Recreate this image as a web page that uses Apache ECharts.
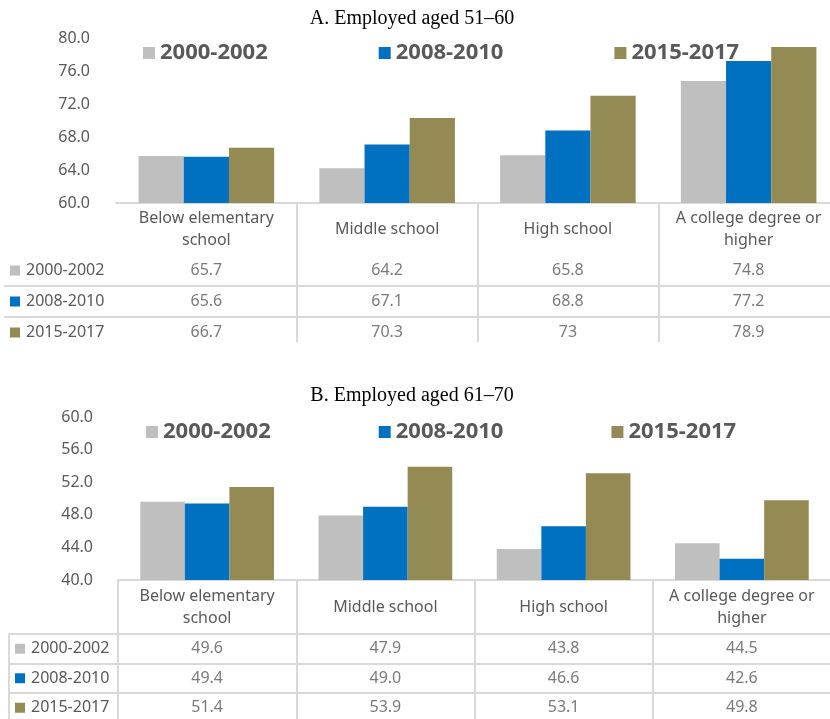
<!DOCTYPE html>
<html>
<head>
<meta charset="utf-8">
<title>Employed by education level</title>
<script src="https://cdn.jsdelivr.net/npm/echarts@6/dist/echarts.min.js"></script>
<style>
  html, body { margin: 0; padding: 0; background: #fff; }
  #chart { width: 830px; height: 719px; }
</style>
</head>
<body>
<div id="chart"></div>
<script>
// categories (table header)
const categories = ['Below elementary\nschool', 'Middle school', 'High school', 'A college degree or\nhigher']
const periods = ['2000-2002', '2008-2010', '2015-2017']

// A. Employed aged 51-60
const a2000 = [65.7, 64.2, 65.8, 74.8]
const a2008 = [65.6, 67.1, 68.8, 77.2]
const a2015 = [66.7, 70.3, 73, 78.9]
const yTicksA = [60, 64, 68, 72, 76, 80]

// B. Employed aged 61-70
const b2000 = [49.6, 47.9, 43.8, 44.5]
const b2008 = [49.4, 49.0, 46.6, 42.6]
const b2015 = [51.4, 53.9, 53.1, 49.8]
const yTicksB = [40, 44, 48, 52, 56, 60]

// styles
const colors = ['#bfbfbf', '#0070c0', '#948a54']
const textColor = '#595959'
const lineColor = '#d9d9d9'
const font = 'Noto Sans'

const panels = [
  {
    title: 'A. Employed aged 51\u201360', titleTop: 4,
    legendTop: 42, legendLeft: 143, legendGap: 111,
    plotTop: 38, plotH: 165, left: 116, right: -9,
    labelMargin: 26, headMargin: 26, tickLen: 139,
    rowsLeft: 4, rowsTop: 255, rowH: 31,
    boxed: false, values: [a2000, a2008, a2015], ticks: yTicksA,
    fmt: v => String(v)
  },
  {
    title: 'B. Employed aged 61\u201370', titleTop: 381,
    legendTop: 421, legendLeft: 146, legendGap: 108,
    plotTop: 417, plotH: 163, left: 118, right: -1,
    labelMargin: 25, headMargin: 27, tickLen: 139,
    rowsLeft: 9, rowsTop: 634, rowH: 29.5,
    boxed: true, values: [b2000, b2008, b2015], ticks: yTicksB,
    fmt: v => v.toFixed(1)
  }
]

const option = {
  animation: false,
  backgroundColor: '#fff',
  title: [], legend: [], grid: [], xAxis: [], yAxis: [], series: []
}

const rich = { t: { fontFamily: font, fontSize: 16, color: textColor, padding: [0, 0, 0, 6] } }
colors.forEach((c, i) => {
  rich['m' + i] = { width: 10, height: 10, backgroundColor: c }
})

panels.forEach((p, k) => {
  const g = k * 3
  const line = { color: lineColor, width: 2 }
  option.title.push({
    text: p.title, left: 407, top: p.titleTop, textAlign: 'center',
    textStyle: { fontFamily: 'Liberation Serif', fontSize: 20, fontWeight: 'normal', color: '#000' }
  })
  option.legend.push({
    top: p.legendTop, left: p.legendLeft, padding: 0,
    itemWidth: 12, itemHeight: 12, itemGap: p.legendGap,
    icon: 'rect', data: periods, selectedMode: false,
    textStyle: { fontFamily: font, fontSize: 22, fontWeight: 'bold', color: textColor }
  })
  // bar grid, row label grid, table value grid
  option.grid.push(
    { left: p.left, right: p.right, top: p.plotTop, height: p.plotH, outerBoundsMode: 'none' },
    { left: p.rowsLeft, width: p.left - p.rowsLeft, top: p.rowsTop, height: p.rowH * 3, outerBoundsMode: 'none' },
    { left: p.left, right: p.right, top: p.rowsTop, height: p.rowH * 3, outerBoundsMode: 'none' }
  )
  option.xAxis.push(
    {
      gridIndex: g, type: 'category', data: categories,
      axisLine: { lineStyle: line },
      axisTick: { show: true, interval: p.boxed ? 0 : (i) => i > 0, length: p.tickLen, lineStyle: line },
      axisLabel: {
        interval: 0, margin: p.headMargin, verticalAlign: 'middle', lineHeight: 22,
        fontFamily: font, fontSize: 16, color: textColor
      },
      splitLine: { show: false }
    },
    { gridIndex: g + 1, type: 'category', data: [''], show: false },
    { gridIndex: g + 2, type: 'category', data: categories, show: false }
  )
  option.yAxis.push(
    {
      gridIndex: g, type: 'value',
      min: p.ticks[0], max: p.ticks[p.ticks.length - 1], interval: p.ticks[1] - p.ticks[0],
      axisLine: { show: false }, axisTick: { show: false }, splitLine: { show: false },
      axisLabel: { margin: p.labelMargin, fontFamily: font, fontSize: 16, color: textColor, formatter: v => v.toFixed(1) }
    },
    {
      gridIndex: g + 1, type: 'category', inverse: true, data: periods,
      axisLine: { show: p.boxed, lineStyle: line },
      axisTick: { show: false },
      axisLabel: {
        inside: true, margin: 6, interval: 0,
        fontFamily: font, fontSize: 16, color: textColor,
        formatter: (v, i) => `{m${i}| }{t|${v}}`, rich: rich
      },
      splitLine: { show: true, interval: 0, showMinLine: p.boxed, showMaxLine: p.boxed, lineStyle: line }
    },
    {
      gridIndex: g + 2, type: 'category', inverse: true, data: periods,
      axisLine: { show: false }, axisTick: { show: false }, axisLabel: { show: false },
      splitLine: { show: true, interval: 0, showMinLine: p.boxed, showMaxLine: p.boxed, lineStyle: line }
    }
  )
  p.values.forEach((vals, s) => {
    option.series.push({
      name: periods[s], type: 'bar', xAxisIndex: g, yAxisIndex: g,
      barGap: '0%', barCategoryGap: '25%',
      itemStyle: { color: colors[s] },
      data: vals
    })
  })
  // data table cells
  const cells = []
  p.values.forEach((vals, s) => {
    vals.forEach((v, c) => cells.push([c, s, v]))
  })
  option.series.push({
    type: 'scatter', xAxisIndex: g + 2, yAxisIndex: g + 2, silent: true,
    symbolSize: 1, itemStyle: { color: 'rgba(0,0,0,0)' },
    label: {
      show: true, position: 'inside', fontFamily: font, fontSize: 16, color: textColor,
      formatter: prm => p.fmt(prm.value[2])
    },
    data: cells
  })
})

const chart = echarts.init(document.getElementById('chart'))
chart.setOption(option)
</script>
</body>
</html>
